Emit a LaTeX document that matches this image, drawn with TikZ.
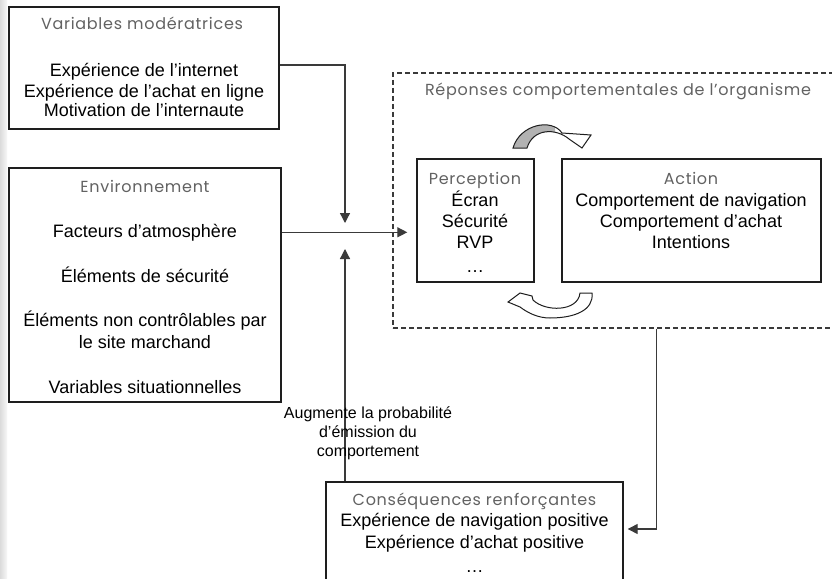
\documentclass[tikz,border=0pt]{standalone}
\usepackage{fontspec}
\setmainfont{Liberation Sans}
\newfontfamily\titlefont[LetterSpace=4.5]{Poppins}
\usetikzlibrary{arrows.meta}
\definecolor{boxline}{HTML}{1E1E1E}
\definecolor{connline}{HTML}{3A3A3A}
\definecolor{titlegray}{HTML}{626262}
\tikzset{
 box/.style={draw=boxline, line width=1.4pt, inner sep=0pt},
 dbox/.style={draw=connline, line width=1.2pt, dash pattern=on 5pt off 3pt, inner sep=0pt},
 ttl/.style={anchor=base, inner sep=0pt, text=titlegray, font=\titlefont\fontsize{16}{19}\selectfont},
 txt/.style={anchor=base, inner sep=0pt, font=\fontsize{18}{21}\selectfont},
 small/.style={anchor=base, inner sep=0pt, font=\fontsize{16}{19}\selectfont},
 conn/.style={draw=connline, line width=1.3pt, -{Triangle[length=10pt,width=10pt]}},
 curvarrow/.style={draw=boxline, line width=1pt, line join=miter},
}
\def\toparrowpath{(513,148) .. controls (520,124) and (552,118) .. (562,133) -- (591,135) -- (582,148) -- (569,139) .. controls (556,128) and (533,128) .. (527,148) -- cycle}
\def\botarrowpath{(580,293) -- (592,293) .. controls (594,310) and (575,318) .. (550,318) .. controls (538,318) and (528,313) .. (520,307) -- (508,302) -- (520,293) -- (532,296) -- (533,300) .. controls (545,312) and (578,312) .. (580,293) -- cycle}
\begin{document}
\begin{tikzpicture}[x=1pt,y=-1pt]
\useasboundingbox (0,0) rectangle (832,578);
\fill[white] (0,0) rectangle (832,578);
\shade[left color=black!14, right color=black!3] (0,0) rectangle (7,578);

% boxes
\node[dbox, minimum width=457pt, minimum height=255pt] (resp) at (621.5,200.5) {};
\node[box, minimum width=270pt, minimum height=122pt] (mod) at (144,68) {};
\node[box, minimum width=272pt, minimum height=234pt] (env) at (145,285) {};
\node[box, minimum width=117pt, minimum height=123pt] (perc) at (475.5,220.5) {};
\node[box, minimum width=259pt, minimum height=123pt] (act) at (691.5,220.5) {};
\node[box, minimum width=297pt, minimum height=118pt] (cons) at (474.5,541) {};

% texts: variables moderatrices
\node[ttl] (modt) at (142,30) {Variables modératrices};
\node[txt] (m1) at (144,77) {Expérience de l’internet};
\node[txt] (m2) at (144,97) {Expérience de l’achat en ligne};
\node[txt] (m3) at (144,116) {Motivation de l’internaute};

% environnement
\node[ttl] (envt) at (145,192) {Environnement};
\node[txt] (e1) at (145,237) {Facteurs d’atmosphère};
\node[txt] (e2) at (145,282) {Éléments de sécurité};
\node[txt] (e3) at (145,326) {Éléments non contrôlables par};
\node[txt] (e4) at (145,348) {le site marchand};
\node[txt] (e5) at (145,393) {Variables situationnelles};

% reponses
\node[ttl] (respt) at (618,95) {Réponses comportementales de l’organisme};
\node[ttl] (perct) at (475,184) {Perception};
\node[txt] (p1) at (475,206) {Écran};
\node[txt] (p2) at (475,227) {Sécurité};
\node[txt] (p3) at (475,248) {RVP};
\node[txt] (p4) at (475,272) {…};
\node[ttl] (actt) at (691,184) {Action};
\node[txt] (a1) at (691,206) {Comportement de navigation};
\node[txt] (a2) at (691,227) {Comportement d’achat};
\node[txt] (a3) at (691,248) {Intentions};

% consequences
\node[ttl] (const) at (474.5,505) {Conséquences renforçantes};
\node[txt] (c1) at (474.5,526.5) {Expérience de navigation positive};
\node[txt] (c2) at (474.5,548) {Expérience d’achat positive};
\node[txt] (c3) at (474.5,572) {…};

% curved arrows
\begin{scope}
\clip (500,100) rectangle (555,160);
\fill[black!30] \toparrowpath;
\end{scope}
\draw[curvarrow] \toparrowpath;
\draw[curvarrow, fill=white] \botarrowpath;

% connectors
\coordinate (jtop) at (345,223);
\coordinate (jbot) at (345,249);
\coordinate (envout) at ([yshift=-65pt]env.north east);
\coordinate (rout) at ([xshift=264pt]resp.south west);
\coordinate (cin) at ([xshift=4pt,yshift=12pt]cons.east);
\draw[conn] ([yshift=3pt]mod.east) -| (jtop);
\draw[conn, shorten >=9pt] (envout) -- (envout -| perc.west);
\draw[conn] (cons.north -| jbot) -- (jbot);
\draw[conn] (rout) |- (cin);

% label
\node[small] (l1) at (368,418) {Augmente la probabilité};
\node[small] (l2) at (368,437.5) {d’émission du};
\node[small] (l3) at (368,456.5) {comportement};
\end{tikzpicture}
\end{document}
